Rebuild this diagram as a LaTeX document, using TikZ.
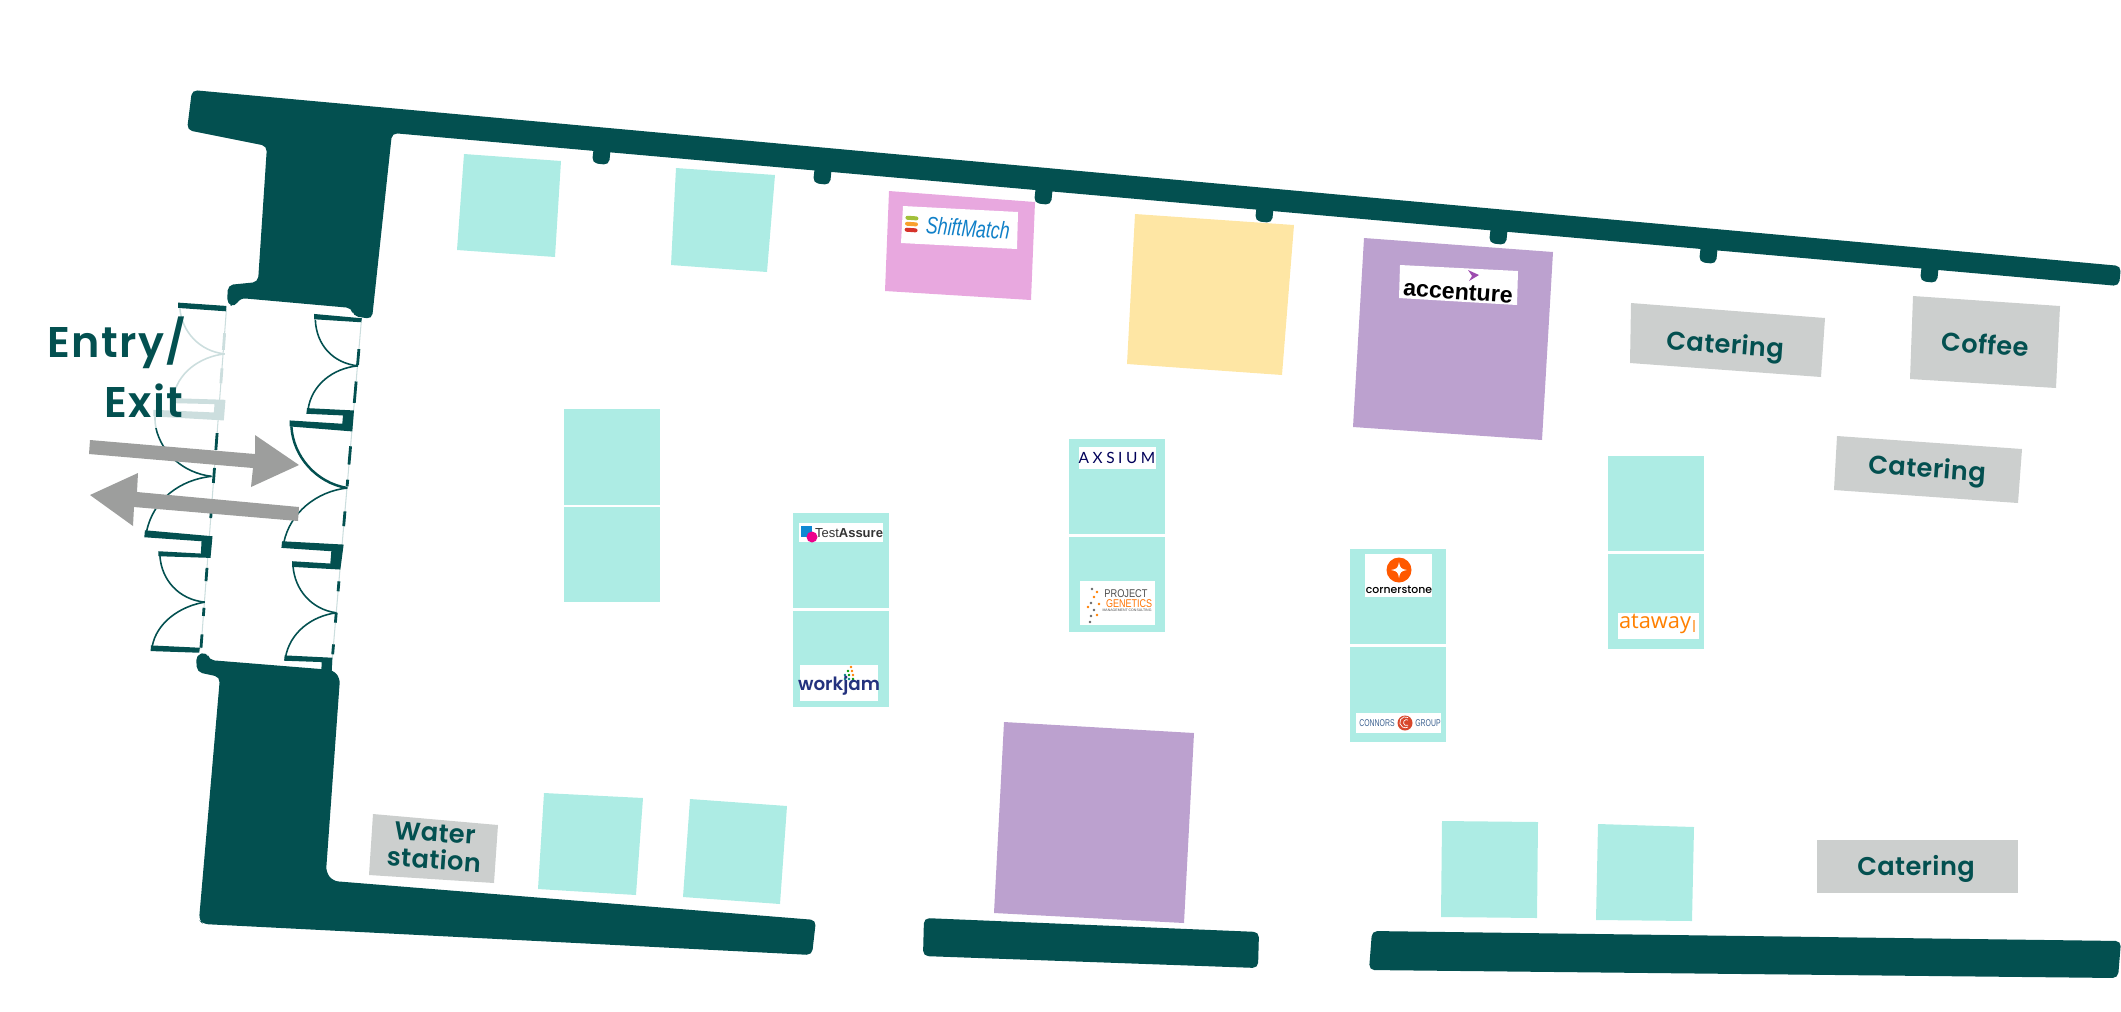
\documentclass[tikz,border=0pt]{standalone}
\usepackage{fontspec}
\setmainfont{Poppins}
\newfontfamily\labelfont{Poppins SemiBold}[LetterSpace=1.5]
\newfontfamily\hallfont{Poppins SemiBold}[LetterSpace=3]
\newfontfamily\roundfont{Poppins Medium}
\newfontfamily\workfont{Poppins SemiBold}
\newfontfamily\logosans{Liberation Sans}
\newfontfamily\logolato{Lato}
\newfontfamily\logoopen{Open Sans}
\usetikzlibrary{calc}
\definecolor{wallteal}{HTML}{035050}
\definecolor{mintstand}{HTML}{ADECE4}
\definecolor{pinkstand}{HTML}{E8A8DF}
\definecolor{yellowstand}{HTML}{FEE6A4}
\definecolor{purplestand}{HTML}{BCA1CF}
\definecolor{servicegrey}{HTML}{CCCFCE}
\definecolor{arrowgrey}{HTML}{9D9E9D}
\definecolor{doorpale}{HTML}{CCDEDE}
\definecolor{shiftblue}{HTML}{1080C8}
\definecolor{workblue}{HTML}{24327E}
\definecolor{connorblue}{HTML}{3A6090}
\definecolor{connorred}{HTML}{D8472B}
\newcommand{\logofont}[1]{\fontsize{#1pt}{#1pt}\selectfont}

\begin{document}
\begin{tikzpicture}[x=0.01cm,y=-0.01cm,
    wall/.style={fill=wallteal,rounded corners=1.5pt},
    mint/.style={fill=mintstand},
    service/.style={fill=servicegrey},
    whitebox/.style={fill=white},
    label/.style={text=wallteal,font=\labelfont\logofont{7.3},inner sep=0pt},
    hall/.style={text=wallteal,font=\hallfont\logofont{12.2},inner sep=0pt,anchor=base west},
    logo/.style={inner sep=0pt},
    doorline/.style={draw=doorpale,line width=0.3pt},
    doordash/.style={draw=wallteal,line width=0.8pt},
    palepanel/.style={fill=doorpale},
    panel/.style={fill=wallteal},
    swing/.style={draw=wallteal,line width=0.45pt},
    paleswing/.style={draw=doorpale,line width=0.45pt},
    passage/.style={fill=arrowgrey}]
  \useasboundingbox (0,0) rectangle (2121,1011);

  \fill[wall] (192,90) -- (2121,266) -- (2119,286) -- (392,133) -- (372,319) -- (353,316) -- (352,308)
     -- (240,298) -- (235,307) -- (227,304) -- (228,285) -- (258,282) -- (267,146) -- (187,130) -- cycle;
  \foreach \bx/\by in {592/165,813/185,1034/205,1255/223,1489/245,1699/264,1920/283}
    \fill[wall] (\bx+2,\by-20) -- (\bx,\by-2) -- (\bx+17,\by) -- (\bx+19,\by-20) -- cycle;
  \fill[wall] (207,652) -- (196,655) -- (197,672) -- (220,677) -- (199,920) -- (203,924) -- (812,955)
     -- (816,920) -- (333,881) -- (326,872) -- (340,678) -- (333,670) -- (209,660) -- cycle;
  \fill[wall] (924,918) -- (1259,932) -- (1258,968) -- (923,956) -- cycle;
  \fill[wall] (1372,931) -- (2121,941) -- (2118,978) -- (1369,970) -- cycle;

  \begin{scope}[shift={(120,270)},x=0.003333cm,y=-0.003333cm]
    \coordinate (rtop) at (725,155);
    \coordinate (rbot) at (636,1190);
    \coordinate (ltop) at (320,115);
    \coordinate (lbot) at (243,1140);
    \draw[doorline] (rtop) -- (rbot);
    \draw[doorline] (ltop) -- (lbot);
    \foreach \a/\b in {.08/.126,.174/.236,.362/.415,.459/.478,.551/.594,.754/.783,.845/.874,.937/.966}
      \draw[doordash] ($(rtop)!\a!(rbot)$) -- ($(rtop)!\b!(rbot)$);
    \foreach \a/\b in {.366/.415,.468/.512,.595/.615,.761/.8,.878/.902,.956/.995}
      \draw[doordash] ($(ltop)!\a!(lbot)$) -- ($(ltop)!\b!(lbot)$);
    \foreach \a/\b in {.073/.122,.176/.22}
      \draw[doordash,doorpale] ($(ltop)!\a!(lbot)$) -- ($(ltop)!\b!(lbot)$);

    \fill[panel] (583,132) -- (727,145) -- (725,157) -- (583,148) -- cycle;
    \fill[panel] (562,415) -- (703,422) -- (698,485) -- (510,470) -- (510,452) -- (668,462) -- (670,437) -- (560,432) -- cycle;
    \fill[panel] (487,815) -- (672,825) -- (662,900) -- (517,892) -- (517,875) -- (632,882) -- (635,845) -- (485,835) -- cycle;
    \fill[panel] (495,1158) -- (638,1165) -- (636,1210) -- (605,1205) -- (606,1178) -- (493,1174) -- cycle;
    \fill[panel] (175,98) -- (320,108) -- (318,124) -- (175,114) -- cycle;
    \fill[palepanel] (155,385) -- (317,390) -- (312,452) -- (100,440) -- (100,420) -- (282,428) -- (284,403) -- (155,400) -- cycle;
    \fill[panel] (75,782) -- (278,800) -- (272,865) -- (115,860) -- (115,845) -- (243,852) -- (245,815) -- (73,803) -- cycle;
    \fill[panel] (93,1128) -- (240,1135) -- (238,1150) -- (92,1145) -- cycle;

    \draw[swing] (587,150) .. controls (590,225) and (640,280) .. (715,288);
    \draw[swing] (715,288) .. controls (640,295) and (575,345) .. (565,420);
    \draw[swing,line width=0.7pt] (515,470) .. controls (520,560) and (590,640) .. (683,655);
    \draw[swing] (683,655) .. controls (590,665) and (510,730) .. (492,820);
    \draw[swing] (520,890) .. controls (525,960) and (575,1020) .. (650,1030);
    \draw[swing] (650,1030) .. controls (575,1040) and (510,1090) .. (497,1165);
    \draw[paleswing] (180,115) .. controls (185,185) and (240,245) .. (315,252);
    \draw[paleswing] (315,252) .. controls (240,260) and (170,310) .. (160,385);
    \draw[paleswing] (105,440) .. controls (105,455) and (106,465) .. (108,475);
    \draw[swing] (108,475) .. controls (125,550) and (190,610) .. (275,620);
    \draw[swing] (275,620) .. controls (180,630) and (100,690) .. (80,785);
    \draw[swing] (120,860) .. controls (125,930) and (175,990) .. (255,998);
    \draw[swing] (255,998) .. controls (180,1010) and (110,1060) .. (97,1130);
  \end{scope}

  \fill[passage] (90,440) -- (255,454) -- (255,435) -- (299,465) -- (251,487) -- (253,468) -- (89,454) -- cycle;
  \fill[passage] (90,495) -- (138,473) -- (137,492) -- (299,507) -- (298,521) -- (134,507) -- (133,526) -- cycle;
  \node[hall] (entry) at (47,357) {Entry/};
  \node[hall] (exit) at (104,417) {Exit};

  \fill[mint] (464,154) -- (561,161) -- (555,257) -- (457,250) -- cycle;
  \fill[mint] (676,168) -- (775,175) -- (767,272) -- (671,265) -- cycle;
  \fill[pinkstand] (889,191) -- (1035,202) -- (1031,300) -- (885,291) -- cycle;
  \fill[yellowstand] (1135,214) -- (1294,225) -- (1282,375) -- (1127,364) -- cycle;
  \fill[purplestand] (1364,238) -- (1553,252) -- (1542,440) -- (1353,427) -- cycle;
  \fill[purplestand] (1004,722) -- (1194,733) -- (1184,923) -- (994,913) -- cycle;
  \fill[mint] (544,793) -- (643,798) -- (636,895) -- (538,889) -- cycle;
  \fill[mint] (690,799) -- (787,806) -- (780,904) -- (683,897) -- cycle;
  \fill[mint] (1442,821) -- (1538,822) -- (1537,918) -- (1441,917) -- cycle;
  \fill[mint] (1598,824) -- (1694,827) -- (1692,921) -- (1596,920) -- cycle;

  \foreach \sx/\sa/\sb in {564/409/505,564/507/602,793/513/608,793/611/707,1069/439/534,1069/537/632,1350/549/644,1350/647/742,1608/456/551,1608/554/649}
    \fill[mint] (\sx,\sa) rectangle (\sx+96,\sb);

  \fill[service] (1631,303) -- (1825,318) -- (1821,377) -- (1630,363) -- cycle;
  \fill[service] (1913,296) -- (2060,306) -- (2056,388) -- (1910,379) -- cycle;
  \fill[service] (1837,436) -- (2022,449) -- (2018,503) -- (1834,490) -- cycle;
  \fill[service] (1817,840) rectangle (2018,893);
  \fill[service] (373,814) -- (498,825) -- (494,883) -- (369,875) -- cycle;
  \node[label,rotate=-4] (catering1) at (1725,347) {Catering};
  \node[label,rotate=-4] (coffee) at (1985,344) {Coffee};
  \node[label,rotate=-4] (catering2) at (1927,471) {Catering};
  \node[label] (catering3) at (1916,869) {Catering};
  \node[label,rotate=-4] (water) at (435,833) {Water};
  \node[label,rotate=-4] (station) at (434,859) {station};

  \fill[whitebox] (903,206) -- (1018,212) -- (1017,249) -- (901,243) -- cycle;
  \foreach \cy/\cc in {0/A2C03A,1/F9A12E,2/D6332B} {
    \definecolor{barcol}{HTML}{\cc}
    \fill[barcol,rounded corners=0.6pt,rotate around={-4:(911,224)}] (905,216+\cy*6) rectangle (918,220+\cy*6);
  }
  \node[logo,rotate=-4,text=shiftblue,font=\logosans\itshape\logofont{6.8}] (shiftmatch) at (968,228) {\scalebox{.74}[1]{ShiftMatch}};

  \fill[whitebox] (1400,265) -- (1518,271) -- (1517,305) -- (1399,298) -- cycle;
  \fill[purple!60!blue!70!white] (1468,270) -- (1479,275) -- (1469,281) -- (1472,276) -- cycle;
  \node[logo,rotate=-4,font=\logosans\bfseries\logofont{6.6}] (accenture) at (1458,292) {accenture};

  \fill[whitebox] (799,523) rectangle (883,542);
  \fill[cyan!70!blue] (801,526) rectangle (812,537);
  \fill[magenta] (812,537) circle (5.5);
  \node[logo,text=black!80,font=\logosans\logofont{3.7}] (testassure) at (849,533) {Test\textbf{Assure}};

  \fill[whitebox] (800,665) rectangle (878,701);
  \foreach \dx/\dy/\dc in {851/667/orange,848/671/green!60!black,852/671/orange,845/675/teal,849/675/green!60!black,853/675/orange,845/679/teal,849/679/teal,853/679/green!60!black}
    \fill[\dc] (\dx,\dy) circle (1.3);
  \node[logo,text=workblue,font=\workfont\logofont{5.2}] (workjam) at (839,686) {workjam};

  \fill[whitebox] (1079,447) rectangle (1156,469);
  \node[logo,text=blue!35!black,font=\logolato\logofont{4.4}] (axsium) at (1117,458) {A\kern1pt X\kern1pt S\kern1pt I\kern1pt U\kern1pt M};

  \fill[whitebox] (1080,581) rectangle (1155,625);
  \foreach \dx/\dy/\dc in {1092/589/black!60,1094/597/orange,1091/603/black!60,1088/607/orange,1094/610/black!60,1099/604/orange,1097/615/orange,1091/616/black!60,1090/622/black!60,1097/592/orange}
    \fill[\dc] (\dx,\dy) circle (1.3);
  \node[logo,text=black!70,font=\logosans\logofont{3.2}] (project) at (1126,594) {\scalebox{.82}[1]{PROJECT}};
  \node[logo,text=orange!90!red,font=\logosans\logofont{3.2}] (genetics) at (1129,604) {\scalebox{.8}[1]{GENETICS}};
  \node[logo,text=black!70,font=\logosans\logofont{1.0}] (consulting) at (1127,610) {MANAGEMENT CONSULTING};

  \fill[whitebox] (1365,554) rectangle (1432,597);
  \fill[orange!70!red] (1399,570) circle (12.5);
  \fill[white] (1399,562) .. controls (1400,568) and (1401,569) .. (1407,570)
     .. controls (1401,571) and (1400,572) .. (1399,578)
     .. controls (1398,572) and (1397,571) .. (1391,570)
     .. controls (1397,569) and (1398,568) .. (1399,562) -- cycle;
  \node[logo,font=\roundfont\logofont{3.1}] (cornerstone) at (1399,590) {cornerstone};

  \fill[whitebox] (1356,713) rectangle (1441,733);
  \fill[connorred] (1405,723) circle (7.5);
  \draw[white,line width=0.2pt] (1408,717.5) arc (-60:-300:5.5 and 5.5);
  \draw[white,line width=0.2pt] (1408,720) arc (-60:-300:3 and 3);
  \node[logo,text=connorblue,font=\logosans\logofont{2.8}] (connors) at (1377,723) {\scalebox{.7}[1]{CONNORS}};
  \node[logo,text=connorblue,font=\logosans\logofont{2.8}] (group) at (1428,723) {\scalebox{.7}[1]{GROUP}};

  \fill[whitebox] (1618,613) rectangle (1699,639);
  \fill[orange!60] (1693,620) rectangle (1695,632);
  \node[logo,text=orange,font=\logoopen\logofont{6.2}] (ataway) at (1655,624) {ataway};
\end{tikzpicture}
\end{document}
